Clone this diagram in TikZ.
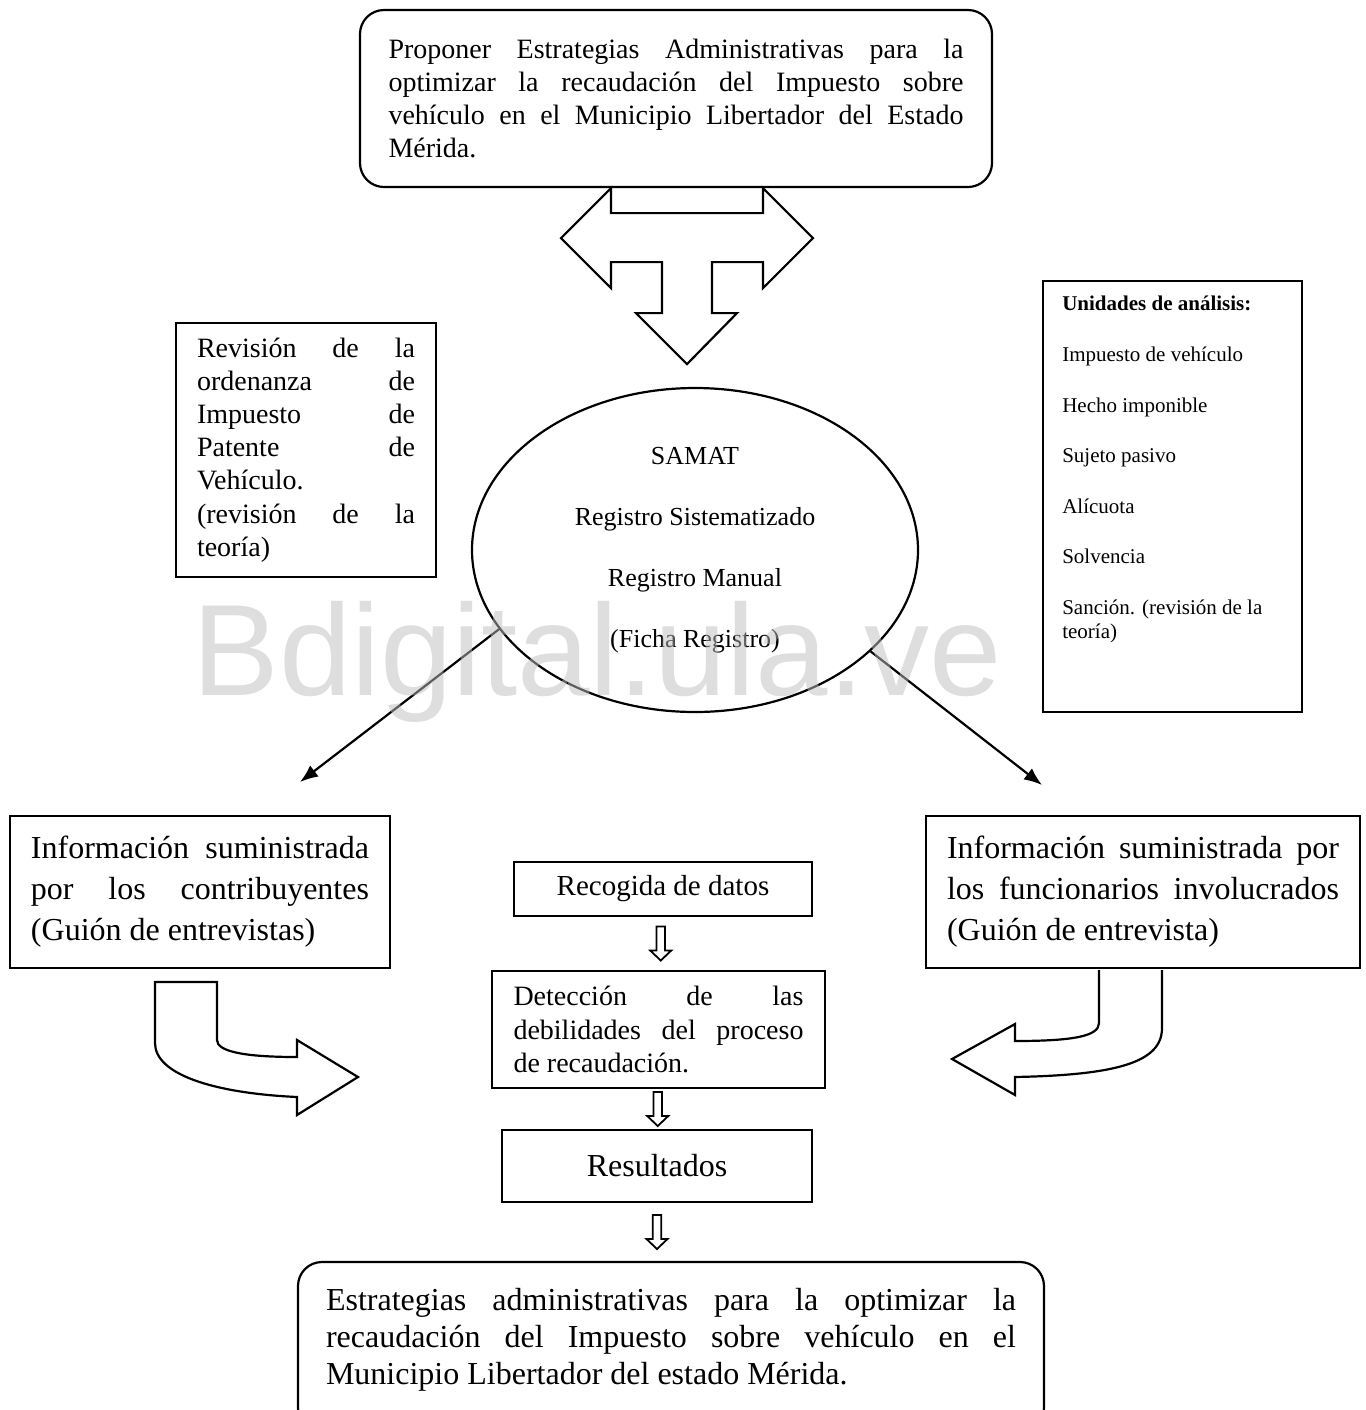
\documentclass[tikz,border=0pt]{standalone}
\usepackage{fontspec}
\setmainfont{Liberation Serif}
\newfontfamily\marcafont{Liberation Sans}
\usetikzlibrary{shapes.geometric,arrows.meta,calc}

\tikzset{
  caja/.style={draw, rectangle, line width=1.1pt, inner sep=0pt, align=justify},
  cajar/.style={caja, rounded corners=12pt},
  hueca/.style={draw, line width=1.1pt, fill=white},
  t14/.style={font={\fontsize{14}{16.6}\selectfont}},
  t16/.style={font={\fontsize{16}{18.4}\selectfont}},
  flechita/.pic={\draw[line width=0.9pt] (-4.25,-17) -- (4.25,-17) -- (4.25,7) -- (10.5,7) -- (0,17) -- (-10.5,7) -- (-4.25,7) -- cycle;},
}

\begin{document}
\begin{tikzpicture}[x=0.5pt, y=-0.5pt, >={Latex[length=9pt,width=7pt]}]
  \useasboundingbox (0,0) rectangle (1366,1410);
  \clip (0,0) rectangle (1366,1410);

  \node[cajar, t14, minimum width=316pt, minimum height=88.5pt, text width=287.5pt] (prop) at (676,98.5)
    {Proponer Estrategias Administrativas para la\linebreak optimizar la recaudación del Impuesto sobre\linebreak vehículo en el Municipio Libertador del Estado\linebreak Mérida.};
  \node[caja, t14, minimum width=130pt, minimum height=127pt, text width=109pt] (rev) at (306,450)
    {Revisión de la\linebreak ordenanza de\linebreak Impuesto de\linebreak Patente de\linebreak Vehículo.\newline (revisión de la\linebreak teoría)};
  \node[draw, ellipse, line width=1.1pt, inner sep=0pt, minimum width=223pt, minimum height=162pt, align=center,
        font={\fontsize{13}{30.5}\selectfont}] (samat) at (695,550)
    {SAMAT\\ Registro Sistematizado\\ Registro Manual\\ (Ficha Registro)};
  \node[caja, minimum width=129.5pt, minimum height=215.5pt] (unid) at (1172.5,496.5) {};
  \node[anchor=north west, inner sep=0pt, align=left, font={\fontsize{10.5}{12}\selectfont}] (unidtxt) at ($(unid.north west)+(20,16)$)
    {\textbf{Unidades de análisis:}\\[13.3pt] Impuesto de vehículo\\[13.3pt] Hecho imponible\\[13.3pt] Sujeto pasivo\\[13.3pt]
     Alícuota\\[13.3pt] Solvencia\\[13.3pt] Sanción. (revisión de la\\ teoría)};

  \node[caja, minimum width=190pt, minimum height=76pt, text width=169pt, font={\fontsize{16}{20.5}\selectfont}] (contrib) at (200,892)
    {Información suministrada\linebreak por los contribuyentes\linebreak (Guión de entrevistas)};
  \node[caja, minimum width=217pt, minimum height=76pt, text width=196pt, font={\fontsize{16}{20.5}\selectfont}] (funcion) at (1143,892)
    {Información suministrada por\linebreak los funcionarios involucrados\linebreak (Guión de entrevista)};

  \node[caja, minimum width=149pt, minimum height=27pt, align=center, font={\fontsize{14.5}{17}\selectfont}] (rec) at (663,889) {Recogida de datos};
  \node[caja, t14, minimum width=166.5pt, minimum height=58.5pt, text width=145pt] (det) at (658.5,1029.5)
    {Detección de las\linebreak debilidades del proceso\linebreak de recaudación.};
  \node[caja, t16, minimum width=155pt, minimum height=36pt, align=center] (res) at (657,1166) {Resultados};
  \node[cajar, t16, minimum width=373pt, minimum height=85pt] (fin) at (671,1347)
    {\raisebox{0pt}[\height][\dimexpr\depth+7pt\relax]{\parbox{345pt}{Estrategias administrativas para la optimizar la\linebreak
     recaudación del Impuesto sobre vehículo en el\linebreak Municipio Libertador del estado Mérida.}}};

  % flecha de tres puntas
  \draw[hueca, shift={(prop.south)}] (-65,25) -- (-65,0) -- (-115,50) -- (-65,100) -- (-65,74) -- (-14,74) -- (-14,125)
    -- (-40,125) -- (11,176) -- (61,125) -- (36,125) -- (36,74) -- (87,74) -- (87,100) -- (137,50) -- (87,0) -- (87,25) -- cycle;

  \coordinate (izq) at (300,782);
  \coordinate (der) at (1042,785);
  \path[->, line width=1.1pt]
    (samat.202) edge (izq)
    (samat.330) edge (der);

  % flechas curvas
  \draw[hueca] (155,982) -- (217,982) -- (217,1040) .. controls (217,1051) and (242,1057) .. (297,1057) -- (297,1040)
    -- (358,1077) -- (297,1115) -- (297,1097) .. controls (212,1093) and (155,1074) .. (155,1043) -- cycle;
  \draw[hueca] (1099,970) -- (1099,1023) .. controls (1099,1036) and (1074,1041) .. (1015,1041) -- (1015,1024)
    -- (952,1059) -- (1015,1095) -- (1015,1077) .. controls (1118,1075) and (1162,1062) .. (1162,1028) -- (1162,970);

  \pic at ($(rec.south)!0.5!(det.north)$) {flechita};
  \pic at ($(det.south)!0.5!(res.north)$) {flechita};
  \pic at ($(res.south)!0.5!(res.south |- fin.north)$) {flechita};

  \node[anchor=base, inner sep=0pt, text=black!26, text opacity=0.5, font={\marcafont\fontsize{65}{65}\selectfont}] (marca) at (597,695) {Bdigital.ula.ve};
\end{tikzpicture}
\end{document}
